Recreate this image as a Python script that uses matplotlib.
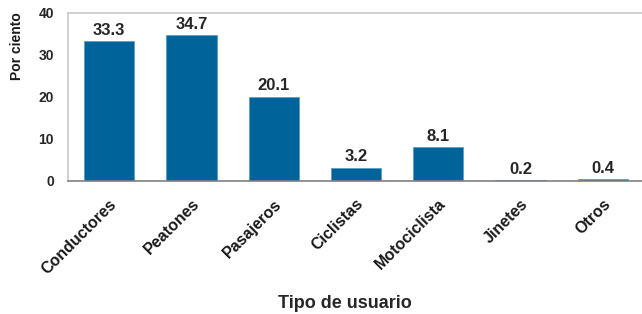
import matplotlib.pyplot as plt

# Data
categorias = ['Conductores', 'Peatones', 'Pasajeros', 'Ciclistas',
              'Motociclista', 'Jinetes', 'Otros']
porcentajes = [33.3, 34.7, 20.1, 3.2, 8.1, 0.2, 0.4]
y_ticks = [0, 10, 20, 30, 40]

plt.rcParams['font.family'] = ['Liberation Sans', 'DejaVu Sans']
plt.rcParams['font.weight'] = 'bold'

fig = plt.figure(figsize=(6.42, 3.14), dpi=100)
ax = fig.add_axes([68 / 642, 133 / 314, 576 / 642, 168 / 314])

x = range(len(categorias))
bars = ax.bar(x, porcentajes, width=0.61, color='#00649a',
              edgecolor='#5a9ec4', linewidth=0.6)

# Value labels above bars
for xi, v in zip(x, porcentajes):
    ax.text(xi, v + 0.8, f'{v:.1f}', ha='center', va='bottom',
            fontsize=12, fontweight='bold', color='#262626')

ax.set_xlim(-0.5, len(categorias) - 0.5)
ax.set_ylim(0, 40)
ax.set_yticks(y_ticks)
ax.set_yticklabels([str(t) for t in y_ticks], fontsize=10,
                   fontweight='bold', color='#262626')
ax.set_xticks(list(x))
ax.set_xticklabels(categorias, rotation=45, ha='right',
                   rotation_mode='anchor', fontsize=11.5,
                   fontweight='bold', color='#1a1a1a')
ax.tick_params(axis='x', length=0, pad=11)
ax.tick_params(axis='y', length=0, pad=10)

ax.set_ylabel('Por ciento', fontsize=10, fontweight='bold',
              color='#1a1a1a')
ax.yaxis.set_label_coords(-0.077, 0.8)
ax.set_xlabel('Tipo de usuario', fontsize=13, fontweight='bold',
              color='#262626')
ax.xaxis.set_label_coords(0.48, -0.68)

# Spines
for s in ['top', 'left', 'right']:
    ax.spines[s].set_color('#c8c8c8')
    ax.spines[s].set_linewidth(1.2)
ax.spines['bottom'].set_color('#808080')
ax.spines['bottom'].set_linewidth(1.2)

plt.savefig('out.png', dpi=100)
